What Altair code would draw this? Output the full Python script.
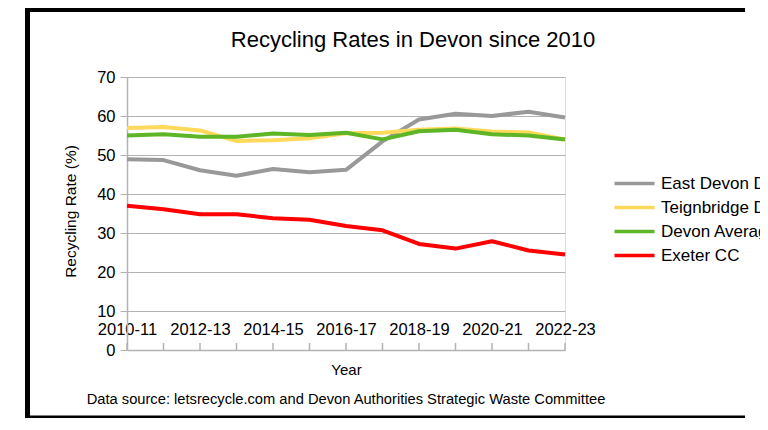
import altair as alt
import pandas as pd

years = ["2010-11", "2011-12", "2012-13", "2013-14", "2014-15", "2015-16", "2016-17",
         "2017-18", "2018-19", "2019-20", "2020-21", "2021-22", "2022-23"]
series_names = ["East Devon DC", "Teignbridge DC", "Devon Average", "Exeter CC"]
series_colors = ["#999999", "#ffd95a", "#5eb526", "#ff0000"]
east_devon = [48.9, 48.7, 46.1, 44.7, 46.4, 45.6, 46.2, 53.5, 59.1, 60.6, 60.0, 61.1, 59.6]
teignbridge = [56.9, 57.2, 56.3, 53.6, 53.8, 54.3, 55.6, 55.7, 56.5, 56.8, 56.0, 55.8, 54.0]
devon_avg = [55.0, 55.3, 54.7, 54.7, 55.5, 55.1, 55.7, 54.0, 56.1, 56.5, 55.3, 55.0, 54.0]
exeter = [37.0, 36.1, 34.8, 34.8, 33.8, 33.4, 31.8, 30.7, 27.2, 26.0, 27.9, 25.5, 24.5]
y_ticks = [0, 10, 20, 30, 40, 50, 60, 70]
x_labels = years[::2]

title_text = "Recycling Rates in Devon since 2010"
source_text = "Data source: letsrecycle.com and Devon Authorities Strategic Waste Committee"

rows = []
for name, vals in zip(series_names, [east_devon, teignbridge, devon_avg, exeter]):
    for yr, v in zip(years, vals):
        rows.append({"Year": yr, "Series": name, "Rate": v})
df = pd.DataFrame(rows)
years_df = pd.DataFrame({"Year": years})
one = pd.DataFrame({"k": [0]})

FONT = "Liberation Sans"
GRID = "#b3b3b3"

x_enc = alt.X(
    "Year:N", sort=years,
    scale=alt.Scale(type="point", padding=0),
    axis=alt.Axis(values=x_labels, labelAngle=0, ticks=False, tickSize=0, grid=False,
                  labelPadding=-16, labelBaseline="alphabetic", labelFont=FONT,
                  labelFontSize=16.5, labelColor="black", domainColor=GRID, domainWidth=1.5,
                  title="Year", titleFont=FONT, titleFontSize=15, titleFontWeight="normal",
                  titleColor="black", titleY=24, titleBaseline="alphabetic"),
)
y_enc = alt.Y(
    "Rate:Q",
    scale=alt.Scale(domain=[0, 70], nice=False),
    axis=alt.Axis(values=y_ticks, grid=True, gridColor=GRID, gridWidth=1,
                  domainColor=GRID, domainWidth=1.5, tickColor=GRID, tickSize=7,
                  labelFont=FONT, labelFontSize=16.5, labelColor="black", labelPadding=5,
                  title="Recycling Rate (%)", titleFont=FONT, titleFontSize=15.5,
                  titleFontWeight="normal", titleColor="black", titleX=-57, titleY=134,
                  titleAngle=270, titleBaseline="middle", titleAlign="center"),
)
color_enc = alt.Color(
    "Series:N",
    scale=alt.Scale(domain=series_names, range=series_colors),
    legend=alt.Legend(title=None, orient="none", legendX=515, legendY=98,
                      symbolType="M-9,0H1", symbolSize=64, symbolStrokeWidth=3.5,
                      labelFont=FONT, labelFontSize=17, labelColor="black",
                      labelOffset=2, rowPadding=6, padding=0),
)

# outer frame drawn as filled bars (left, top, bottom)
def bar(x1, x2, y1, y2):
    return alt.Chart(one).mark_rect(color="black").encode(
        x=alt.value(x1), x2=alt.value(x2), y=alt.value(y1), y2=alt.value(y2)
    )

frame_left = bar(-102, -97, -70, 343.5)
frame_top = bar(-102, 618, -70, -65)
frame_bottom = bar(-102, 618, 338.5, 343.5)

ticks = alt.Chart(years_df).mark_rule(color=GRID, strokeWidth=1.5).encode(
    x=x_enc, y=alt.value(266), y2=alt.value(273)
)

lines = []
for name in series_names:
    lines.append(
        alt.Chart(df).transform_filter(alt.datum.Series == name)
        .mark_line(strokeWidth=4, strokeJoin="round")
        .encode(x=x_enc, y=y_enc, color=color_enc)
    )

title = alt.Chart(one).mark_text(text=title_text, font=FONT, fontSize=22, color="black",
                                 align="center", baseline="alphabetic").encode(
    x=alt.value(286), y=alt.value(-30.3)
)
source = alt.Chart(one).mark_text(text=source_text, font=FONT, fontSize=14.7, color="black",
                                  align="center", baseline="alphabetic").encode(
    x=alt.value(219), y=alt.value(326.5)
)

chart = alt.layer(frame_left, frame_top, frame_bottom, ticks, *lines, title, source).properties(
    width=438, height=273,
    padding={"left": 119, "top": 69, "right": 195, "bottom": 68},
    autosize=alt.AutoSizeParams(type="none"),
).configure_view(stroke=GRID, strokeWidth=1).configure(background="white")

chart.save("out.html", embed_options={"renderer": "svg", "actions": False})
